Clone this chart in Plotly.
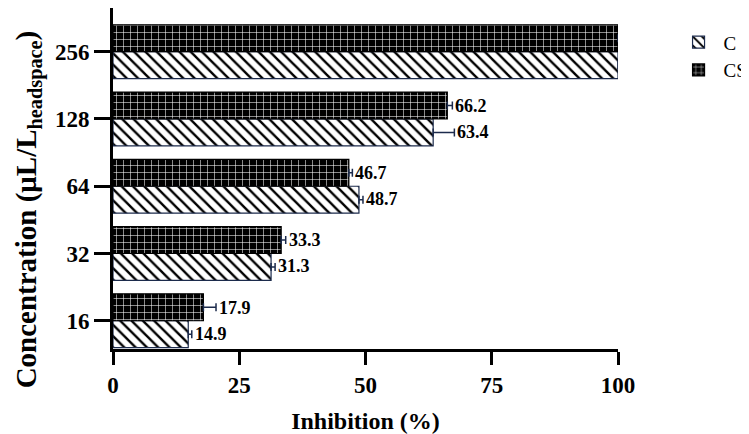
import plotly.graph_objects as go

categories = ["16", "32", "64", "128", "256"]
c_values = [14.9, 31.3, 48.7, 63.4, 100.0]
cs_values = [17.9, 33.3, 46.7, 66.2, 100.0]
c_err = [0.7, 0.8, 0.8, 4.2, 0.0]
cs_err = [2.5, 0.9, 0.7, 1.0, 0.0]
x_ticks = [0, 25, 50, 75, 100]

FONT = "Liberation Serif, Times New Roman, serif"
NAVY = "#1c2b4c"
pos = list(range(len(categories)))

fig = go.Figure()
fig.add_trace(go.Bar(
    name="C", y=pos, x=c_values, orientation="h",
    marker=dict(color="white", line=dict(color=NAVY, width=1.2),
                pattern=dict(shape="\\", fgcolor="black", bgcolor="white",
                             size=8, solidity=0.3, fillmode="replace")),
    error_x=dict(type="data", symmetric=False, array=c_err,
                 arrayminus=[0] * len(c_err), color=NAVY, thickness=1.5, width=4),
))
fig.add_trace(go.Bar(
    name="CS", y=pos, x=cs_values, orientation="h",
    marker=dict(color="black", line=dict(color="black", width=1.2),
                pattern=dict(shape="+", fgcolor="white", bgcolor="black",
                             size=7, solidity=0.15, fillmode="replace")),
    error_x=dict(type="data", symmetric=False, array=cs_err,
                 arrayminus=[0] * len(cs_err), color=NAVY, thickness=1.5, width=4),
))

for vals, errs, shift in ((c_values, c_err, -13), (cs_values, cs_err, 13)):
    for i, v, e in zip(pos, vals, errs):
        if v >= 100:
            continue
        fig.add_annotation(x=v + e, y=i, yshift=shift, xshift=1,
                           text=f"<b>{v:.1f}</b>", showarrow=False, xanchor="left",
                           font=dict(family=FONT, size=18, color="black"))

# y-axis title (placed as rotated annotation to match the reference position)
fig.add_annotation(xref="paper", yref="paper", x=-0.168, y=0.41,
                   text="<b>Concentration (μL/L<sub>headspace</sub>)</b>",
                   textangle=-90, showarrow=False, xanchor="center", yanchor="middle",
                   font=dict(family=FONT, size=29, color="black"))

fig.update_layout(
    width=749, height=434,
    margin=dict(l=105, r=139, t=0, b=93),
    plot_bgcolor="white", paper_bgcolor="white",
    barmode="group", bargap=0.2, bargroupgap=0.0,
    font=dict(family=FONT, color="black"),
    legend=dict(x=1.11, y=0.955, xanchor="left", yanchor="top",
                font=dict(family=FONT, size=19, color="black"),
                traceorder="normal", itemwidth=40, tracegroupgap=0),
    showlegend=True,
)
fig.update_xaxes(
    range=[0, 100], tickvals=x_ticks, ticktext=[f"<b>{t}</b>" for t in x_ticks],
    showgrid=False, zeroline=False, automargin=False,
    showline=True, linecolor="black", linewidth=3,
    ticks="outside", ticklen=13, tickwidth=3, tickcolor="black",
    tickfont=dict(family=FONT, size=23, color="black"),
    title=dict(text="<b>Inhibition (%)</b>", font=dict(family=FONT, size=24, color="black"),
               standoff=16),
)
fig.update_yaxes(
    tickvals=pos, ticktext=[f"<b>{c}</b>" for c in categories],
    range=[-0.42, 4.65], showgrid=False, zeroline=False, automargin=False,
    showline=True, linecolor="black", linewidth=3,
    ticks="outside", ticklen=16, tickwidth=3, tickcolor="black",
    tickfont=dict(family=FONT, size=23, color="black"),
)

fig.write_html("out.html")
